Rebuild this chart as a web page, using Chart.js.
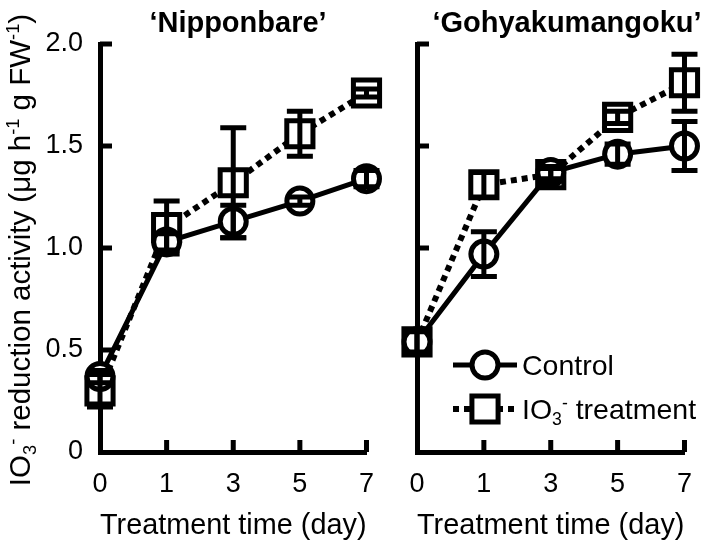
<!DOCTYPE html>
<html>
<head>
<meta charset="utf-8">
<script src="https://cdn.jsdelivr.net/npm/chart.js@4.4.1/dist/chart.umd.min.js"></script>
<style>
  html, body { margin: 0; padding: 0; background: #fff; }
  #wrap { position: relative; width: 708px; height: 547px; }
  canvas { position: absolute; top: 0; }
  #left { left: 0; }
  #right { left: 390px; }
</style>
</head>
<body>
<div id="wrap">
  <canvas id="left" width="390" height="547" style="width:390px;height:547px"></canvas>
  <canvas id="right" width="318" height="547" style="width:318px;height:547px"></canvas>
</div>
<script>
'use strict';

const DAYS = ['0', '1', '3', '5', '7'];
const Y_MIN = 0;
const Y_MAX = 2;
const Y_STEP = 0.5;

// 'Nipponbare'
const NIP_CONTROL = [0.37, 1.03, 1.13, 1.23, 1.34];
const NIP_CONTROL_ERR = [0.03, 0.04, 0.08, 0.02, 0.04];
const NIP_IO3 = [0.30, 1.10, 1.32, 1.56, 1.76];
const NIP_IO3_ERR = [0.08, 0.13, 0.27, 0.11, 0.02];

// 'Gohyakumangoku'
const GOH_CONTROL = [0.54, 0.97, 1.37, 1.46, 1.50];
const GOH_CONTROL_ERR = [0.05, 0.11, 0.03, 0.05, 0.12];
const GOH_IO3 = [0.54, 1.31, 1.36, 1.64, 1.81];
const GOH_IO3_ERR = [0.06, 0.06, 0.03, 0.03, 0.14];

const FONT = '"Liberation Sans", Arial, Helvetica, sans-serif';
const BLACK = '#000';

// rich text pieces: [text, '' | 'sub' | 'sup']
const Y_TITLE = [['IO', ''], ['3', 'sub'], ['-', 'sup'], [' reduction activity (\u03bcg h', ''], ['-1', 'sup'], [' g FW', ''], ['-1', 'sup'], [')', '']];
const IO3_LABEL = [['IO', ''], ['3', 'sub'], ['-', 'sup'], [' treatment', '']];

// ---------------------------------------------------------------------------
// Helpers
// ---------------------------------------------------------------------------
function richWidth(ctx, parts, size) {
  let w = 0;
  parts.forEach(([t, k]) => {
    ctx.font = `${k ? size * 0.62 : size}px ${FONT}`;
    w += ctx.measureText(t).width;
  });
  return w;
}

function drawRich(ctx, parts, x, y, size, align) {
  const w = richWidth(ctx, parts, size);
  let cx = align === 'center' ? x - w / 2 : x;
  ctx.textAlign = 'left';
  ctx.textBaseline = 'alphabetic';
  parts.forEach(([t, k]) => {
    ctx.font = `${k ? size * 0.62 : size}px ${FONT}`;
    const dy = k === 'sub' ? size * 0.2 : k === 'sup' ? -size * 0.36 : 0;
    ctx.fillText(t, cx, y + dy);
    cx += ctx.measureText(t).width;
  });
}

// ---------------------------------------------------------------------------
// Plugins
// ---------------------------------------------------------------------------
const errorBars = {
  id: 'errorBars',
  afterDatasetsDraw(chart, args, opts) {
    const { ctx, scales: { x, y } } = chart;
    ctx.save();
    ctx.strokeStyle = BLACK;
    ctx.lineWidth = opts.width;
    chart.data.datasets.forEach(ds => {
      (ds.errors || []).forEach((e, i) => {
        const v = ds.data[i];
        const px = x.getPixelForValue(i);
        const top = y.getPixelForValue(v + e);
        const bot = y.getPixelForValue(v - e);
        const half = opts.cap / 2;
        ctx.beginPath();
        ctx.moveTo(px, top); ctx.lineTo(px, bot);
        ctx.moveTo(px - half, top); ctx.lineTo(px + half, top);
        ctx.moveTo(px - half, bot); ctx.lineTo(px + half, bot);
        ctx.stroke();
      });
    });
    ctx.restore();
  }
};

// tick marks pointing into the plot
const innerTicks = {
  id: 'innerTicks',
  beforeDatasetsDraw(chart, args, opts) {
    const { ctx, chartArea: a, scales: { x, y } } = chart;
    ctx.save();
    ctx.strokeStyle = BLACK;
    ctx.lineWidth = opts.width;
    ctx.beginPath();
    y.ticks.forEach(t => {
      if (t.value === Y_MIN) return;
      const py = y.getPixelForValue(t.value);
      ctx.moveTo(a.left, py); ctx.lineTo(a.left + opts.length, py);
    });
    x.ticks.forEach((t, i) => {
      if (i === 0) return;
      const px = x.getPixelForTick(i);
      ctx.moveTo(px, a.bottom); ctx.lineTo(px, a.bottom - opts.length);
    });
    ctx.stroke();
    ctx.restore();
  }
};

const panelText = {
  id: 'panelText',
  afterDraw(chart, args, opts) {
    const { ctx } = chart;
    ctx.save();
    ctx.fillStyle = BLACK;
    // panel title
    ctx.font = `bold ${opts.titleSize}px ${FONT}`;
    ctx.textAlign = 'center';
    ctx.textBaseline = 'alphabetic';
    ctx.fillText(opts.title, opts.titleX, opts.titleY);

    // rotated y title
    if (opts.yTitle) {
      ctx.save();
      ctx.translate(opts.yTitleX, opts.yTitleY);
      ctx.rotate(-Math.PI / 2);
      drawRich(ctx, opts.yTitle, 0, 0, opts.yTitleSize, 'center');
      ctx.restore();
    }

    // legend
    if (opts.legend) {
      const L = opts.legend;
      const ds = chart.data.datasets;
      ds.forEach((d, i) => {
        const ly = L.rows[i];
        ctx.save();
        ctx.strokeStyle = BLACK;
        ctx.lineWidth = d.borderWidth;
        ctx.setLineDash(d.borderDash || []);
        ctx.beginPath();
        ctx.moveTo(L.x0, ly); ctx.lineTo(L.x1, ly);
        ctx.stroke();
        ctx.setLineDash([]);
        ctx.lineWidth = d.pointBorderWidth;
        ctx.fillStyle = '#fff';
        const mx = (L.x0 + L.x1) / 2;
        ctx.beginPath();
        if (d.pointStyle === 'circle') {
          ctx.arc(mx, ly, d.pointRadius, 0, Math.PI * 2);
        } else {
          const s = d.pointRadius * Math.SQRT1_2;
          ctx.rect(mx - s, ly - s, 2 * s, 2 * s);
        }
        ctx.fill();
        ctx.stroke();
        ctx.restore();
        ctx.fillStyle = BLACK;
        const label = i === 0 ? [['Control', '']] : IO3_LABEL;
        drawRich(ctx, label, L.textX, ly + L.baseShift, L.size, 'left');
      });
    }
    ctx.restore();
  }
};

// ---------------------------------------------------------------------------
// Chart config
// ---------------------------------------------------------------------------
function buildConfig(p) {
  return {
    type: 'line',
    data: {
      labels: DAYS,
      datasets: [
        {
          label: 'Control',
          data: p.control,
          errors: p.controlErr,
          borderColor: BLACK,
          borderWidth: 5,
          pointStyle: 'circle',
          pointRadius: 13,
          pointBorderWidth: 5,
          pointBackgroundColor: '#fff',
          pointBorderColor: BLACK,
          tension: 0,
          clip: false,
        },
        {
          label: 'IO3- treatment',
          data: p.io3,
          errors: p.io3Err,
          borderColor: BLACK,
          borderWidth: 6,
          borderDash: [6, 5],
          pointStyle: 'rect',
          pointRadius: 18.5,
          pointBorderWidth: 5,
          pointBackgroundColor: '#fff',
          pointBorderColor: BLACK,
          tension: 0,
          clip: false,
        },
      ],
    },
    options: {
      responsive: false,
      animation: false,
      events: [],
      layout: { padding: { top: 44, right: p.padRight, left: 0, bottom: 0 } },
      plugins: {
        legend: { display: false },
        tooltip: { enabled: false },
        errorBars: { width: 5, cap: 26 },
        innerTicks: { width: 5, length: 12 },
        panelText: p.text,
      },
      scales: {
        x: {
          type: 'category',
          offset: false,
          grid: { display: false, drawTicks: false },
          border: { color: BLACK, width: 5 },
          ticks: { color: BLACK, font: { family: FONT, size: 27 }, padding: 16, maxRotation: 0, autoSkip: false },
          title: {
            display: true,
            text: 'Treatment time (day)',
            color: BLACK,
            font: { family: FONT, size: 29 },
            padding: { top: 0, bottom: 4 },
          },
          afterFit(s) { s.height = 95; },
        },
        y: {
          min: Y_MIN,
          max: Y_MAX,
          grid: { display: false, drawTicks: false },
          border: { color: BLACK, width: 5 },
          ticks: {
            display: p.showY,
            stepSize: Y_STEP,
            color: BLACK,
            padding: 17,
            font: { family: FONT, size: 27 },
            callback: v => (v === 0 ? '0' : v.toFixed(1)),
          },
          afterFit(s) { s.width = p.yWidth; },
        },
      },
    },
    plugins: [innerTicks, errorBars, panelText],
  };
}

document.addEventListener('DOMContentLoaded', () => {
  new Chart(document.getElementById('left'), buildConfig({
    control: NIP_CONTROL, controlErr: NIP_CONTROL_ERR,
    io3: NIP_IO3, io3Err: NIP_IO3_ERR,
    showY: true, yWidth: 100, padRight: 23,
    text: {
      title: '\u2018Nipponbare\u2019', titleX: 238, titleY: 32, titleSize: 29,
      yTitle: Y_TITLE, yTitleX: 30, yTitleY: 250, yTitleSize: 29.5,
    },
  }));

  new Chart(document.getElementById('right'), buildConfig({
    control: GOH_CONTROL, controlErr: GOH_CONTROL_ERR,
    io3: GOH_IO3, io3Err: GOH_IO3_ERR,
    showY: false, yWidth: 27, padRight: 23,
    text: {
      title: '\u2018Gohyakumangoku\u2019', titleX: 177, titleY: 32, titleSize: 29,
      legend: { x0: 63, x1: 127, textX: 132, rows: [365, 409], baseShift: 10, size: 28.5 },
    },
  }));
});
</script>
</body>
</html>
